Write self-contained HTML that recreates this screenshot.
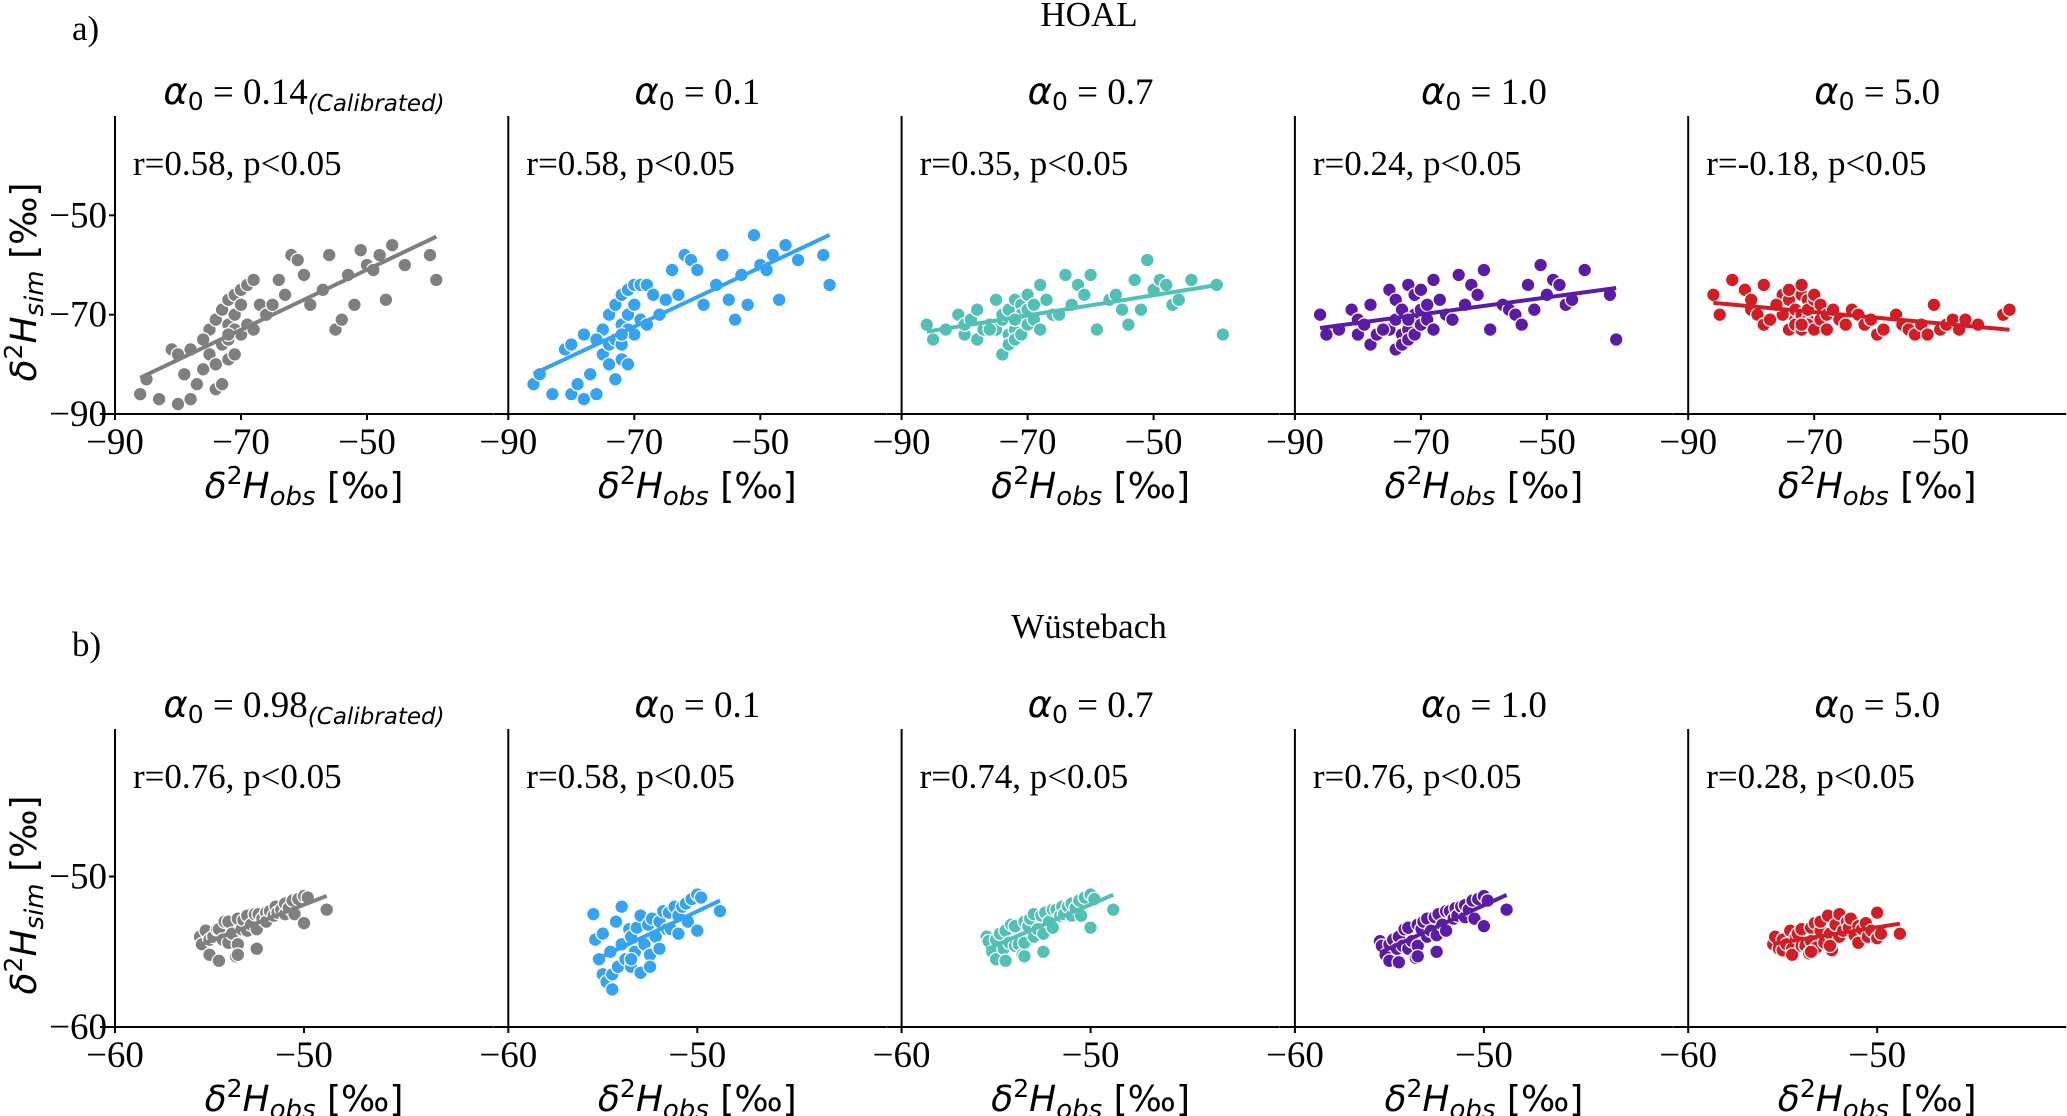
<!DOCTYPE html>
<html><head><meta charset="utf-8"><style>
html,body{margin:0;padding:0;background:#fff;}
svg{display:block;}
.tick{font-family:"Liberation Serif",serif;font-size:37px;fill:#000;}
.ann{font-family:"Liberation Serif",serif;font-size:35px;fill:#000;}
.ttl{font-family:"Liberation Serif",serif;font-size:37px;fill:#000;}
.sans{font-family:"DejaVu Sans",sans-serif;}
.lab{font-family:"DejaVu Sans",sans-serif;font-size:36px;fill:#000;}
</style></head><body>
<svg id="fig" width="2067" height="1116" viewBox="0 0 2067 1116" xmlns="http://www.w3.org/2000/svg">
<text x="72" y="40" class="ann">a)</text>
<text x="1089" y="26" class="ann" text-anchor="middle">HOAL</text>
<text x="72" y="656" class="ann">b)</text>
<text x="1089" y="638" class="ann" text-anchor="middle">Wüstebach</text>
</svg>
<script>
// ---- data ----
const alphaLabels = ["0.14","0.1","0.7","1.0","5.0"];
const alphaLabelsB = ["0.98","0.1","0.7","1.0","5.0"];
const colors = ["#7f7f7f","#35a2f4","#52c0b4","#5a1ba6","#d41c24"];
const rTextA = ["r=0.58, p<0.05","r=0.58, p<0.05","r=0.35, p<0.05","r=0.24, p<0.05","r=-0.18, p<0.05"];
const rTextB = ["r=0.76, p<0.05","r=0.58, p<0.05","r=0.74, p<0.05","r=0.76, p<0.05","r=0.28, p<0.05"];
const ticksA = [-90,-70,-50];
const ticksBx = [-60,-50];
const ticksBy = [-60,-50];
const obsA = [-86,-85,-83,-81,-80,-80,-79,-78,-78,-77,-76,-75,-75,-74,-74,-74,-73,-73,-73,-72,-72,-72,-72,-71,-71,-71,-71,-70,-70,-70,-69,-69,-68,-68,-67,-66,-65,-64,-63,-62,-61,-60,-59,-57,-56,-55,-54,-53,-52,-51,-50,-49,-48,-47,-46,-44,-40,-39,-76,-72];
const simA1 = [-86,-83,-87,-77,-78,-88,-82,-87,-77,-84,-81,-73,-78,-85,-80,-71,-76,-69,-84,-72,-67,-75,-79,-66,-73,-78,-70,-68,-74,-65,-72,-64,-63,-73,-68,-70,-68,-63,-66,-58,-59,-62,-68,-65,-58,-73,-71,-62,-68,-57,-60,-61,-58,-67,-56,-60,-58,-63,-75,-74];
const simA2 = [-84,-82,-86,-77,-76,-86,-84,-87,-74,-82,-86,-73,-78,-80,-76,-70,-75,-68,-83,-72,-66,-76,-79,-65,-73,-80,-70,-68,-74,-64,-71,-64,-64,-72,-66,-70,-67,-61,-66,-58,-59,-61,-68,-64,-58,-67,-71,-62,-68,-54,-60,-61,-58,-67,-56,-59,-58,-64,-75,-74];
const simA3 = [-72,-75,-73,-70,-74,-72,-71,-75,-69,-73,-72,-67,-73,-78,-71,-70,-74,-69,-76,-72,-67,-73,-75,-68,-71,-74,-70,-69,-72,-66,-71,-68,-64,-73,-67,-70,-70,-62,-68,-64,-66,-62,-73,-67,-66,-69,-72,-63,-69,-59,-65,-63,-64,-68,-67,-63,-64,-74,-73,-71];
const simA4 = [-70,-74,-73,-69,-74,-71,-72,-76,-68,-74,-73,-65,-73,-77,-71,-67,-74,-69,-76,-72,-64,-73,-75,-66,-71,-74,-70,-69,-72,-65,-71,-68,-63,-73,-67,-70,-71,-62,-68,-64,-66,-61,-73,-68,-69,-70,-72,-64,-69,-60,-66,-63,-64,-68,-67,-61,-66,-75,-73,-71];
const simA5 = [-66,-70,-63,-65,-69,-67,-70,-72,-64,-71,-68,-66,-70,-73,-67,-65,-71,-69,-72,-66,-64,-70,-73,-67,-71,-72,-69,-67,-73,-66,-71,-68,-70,-73,-69,-71,-72,-69,-70,-72,-71,-74,-73,-70,-72,-73,-74,-72,-74,-68,-73,-72,-71,-73,-71,-72,-70,-69,-68,-72];
const obsB = [-55.5,-55.4,-55.2,-55,-55,-54.8,-54.6,-54.5,-54.5,-54.3,-54.2,-54,-54,-53.8,-53.6,-53.5,-53.5,-53.3,-53.2,-53,-53,-52.8,-52.6,-52.5,-52.4,-52.2,-52,-52,-51.8,-51.6,-51.5,-51.4,-51.2,-51,-51,-50.8,-50.6,-50.5,-50.3,-50,-50,-49.8,-52.5,-53.5,-48.8];
const simB1 = [-54,-54.5,-53.6,-54.2,-55.2,-54,-53.5,-53.5,-55.6,-54.2,-53,-54.4,-53,-53.8,-55.3,-52.8,-54.5,-53.5,-52.9,-53.6,-52.6,-53.2,-52.5,-53.5,-52.5,-52.8,-52.4,-53,-52.3,-52.6,-52,-52.4,-52.2,-51.8,-52.5,-52.1,-51.6,-52.5,-51.5,-51.3,-53.1,-51.4,-54.8,-55.2,-52.2];
const simB2 = [-52.5,-54.2,-55.5,-56.5,-53.8,-57,-55,-56.5,-57.5,-53,-56,-54.5,-52,-55.5,-53.5,-56,-54,-55,-53.4,-56.4,-52.6,-54.5,-53.2,-55.2,-52.8,-54,-53,-54.8,-52.3,-53.5,-52.4,-53.5,-52,-52.6,-53.8,-52,-51.8,-53,-51.5,-51.2,-53.6,-51.4,-56,-55.5,-52.3];
const simB3 = [-54,-54.3,-55,-54.2,-55.5,-53.8,-54.8,-53.6,-55.6,-54.4,-53.2,-54.6,-53.3,-54.5,-55.2,-53,-54.4,-53.3,-52.8,-54,-52.5,-53.5,-52.6,-53.8,-52.4,-53,-52.2,-53.4,-52.2,-52.6,-52,-52.5,-52,-51.8,-52.6,-52.1,-51.6,-52.6,-51.4,-51.2,-53.4,-51.5,-55,-55.3,-52.2];
const simB4 = [-54.3,-54.6,-55.2,-54.5,-55.6,-54.2,-54.8,-54,-55.7,-54.6,-53.5,-54.8,-53.4,-54.3,-55.4,-53.2,-54.6,-53.5,-53,-54,-52.8,-53.6,-52.7,-53.9,-52.5,-53.2,-52.3,-53.6,-52.3,-52.8,-52.1,-52.6,-52,-51.9,-52.7,-52.2,-51.6,-52.8,-51.5,-51.3,-53.3,-51.6,-55,-55.3,-52.2];
const simB5 = [-54.5,-54,-54.8,-54.2,-54.9,-54.5,-53.6,-54.8,-55.2,-54,-53.8,-54.6,-53.5,-54.6,-55.1,-53.4,-54.3,-53.1,-54.7,-53.6,-53,-54.4,-52.6,-53.8,-54.9,-53.2,-52.5,-54,-53.6,-53,-53.4,-52.8,-53.9,-53.3,-54.4,-53.5,-53.1,-54,-53.6,-54.1,-52.4,-53.8,-54.6,-55,-53.8];

const NS = "http://www.w3.org/2000/svg";
const svg = document.getElementById("fig");
function mk(tag, attrs, parent){ const e=document.createElementNS(NS,tag); for(const k in attrs) e.setAttribute(k,attrs[k]); (parent||svg).appendChild(e); return e; }

function panel(opts){
  const {left, top, w, h, xmin, xmax, ymin, ymax, xt, yt, obs, sim, color, title, rtext, calib, showY, idx, row} = opts;
  const sx = v => left + (v - xmin) / (xmax - xmin) * w;
  const sy = v => top + h - (v - ymin) / (ymax - ymin) * h;
  const g = mk("g", {});
  
  
  const ya = mk("line",{x1:left,y1:top,x2:left,y2:top+h,stroke:"#000","stroke-width":2},g);
  
  
  const xa = mk("line",{x1:left-15,y1:top+h,x2:left+w,y2:top+h,stroke:"#000","stroke-width":2},g);
  
  
  xt.forEach(v=>{
    const x=sx(v);
    mk("line",{x1:x,y1:top+h,x2:x,y2:top+h+6,stroke:"#000","stroke-width":2},g);
    const t=mk("text",{x:x,y:top+h+40,"text-anchor":"middle",class:"tick"},g);
    t.textContent="\u2212"+Math.abs(v);
    
    
  });
  yt.forEach(v=>{
    const y=sy(v);
    mk("line",{x1:left-6,y1:y,x2:left,y2:y,stroke:"#000","stroke-width":2},g);
    const t=mk("text",{x:left-8,y:y+12,"text-anchor":"end",class:"tick"},g);
    t.textContent="\u2212"+Math.abs(v);
    
    
  });
  obs.forEach((v,i)=>{
    const c=mk("circle",{cx:sx(v),cy:sy(sim[i]),r:6.8,fill:color,stroke:"#fff","stroke-width":1.3},g);
    
    
  });
  const n=obs.length; let mx=0,my=0; obs.forEach((v,i)=>{mx+=v;my+=sim[i];}); mx/=n; my/=n;
  let sxy=0,sxx=0; obs.forEach((v,i)=>{sxy+=(v-mx)*(sim[i]-my); sxx+=(v-mx)*(v-mx);});
  const b=sxy/sxx, a=my-b*mx;
  const x0=Math.min(...obs), x1=Math.max(...obs);
  const rl=mk("line",{x1:sx(x0),y1:sy(a+b*x0),x2:sx(x1),y2:sy(a+b*x1),stroke:color,"stroke-width":4},g);
  
  
  const t=mk("text",{x:left+w/2,y:top-12,"text-anchor":"middle",class:"ttl"},g);
  
  
  t.innerHTML = '<tspan class="sans" font-style="italic">α</tspan><tspan class="sans" font-size="25" dy="6">0</tspan><tspan dy="-6"> = '+title+'</tspan>' + (calib ? '<tspan class="sans" font-style="italic" font-size="23" dy="7">(Calibrated)</tspan>' : '');
  const r=mk("text",{x:left+18,y:top+59,class:"ann"},g);
  r.textContent=rtext;
  
  
  const xl=mk("text",{x:left+w/2,y:top+h+84,"text-anchor":"middle",class:"lab"},g);
  
  
  xl.innerHTML='<tspan font-style="italic">δ</tspan><tspan font-size="25" dy="-14">2</tspan><tspan font-style="italic" dy="14">H</tspan><tspan font-style="italic" font-size="26" dy="7">obs</tspan><tspan dy="-7"> [‰]</tspan>';
  if(showY){
    const cy=top+h/2+17;
    const yl=mk("text",{x:0,y:0,"text-anchor":"middle",class:"lab",transform:"translate(36,"+cy+") rotate(-90)"},g);
    
    
    yl.innerHTML='<tspan font-style="italic">δ</tspan><tspan font-size="25" dy="-14">2</tspan><tspan font-style="italic" dy="14">H</tspan><tspan font-style="italic" font-size="26" dy="7">sim</tspan><tspan dy="-7">  [‰]</tspan>';
  }
}
const simsA=[simA1,simA2,simA3,simA4,simA5];
const simsB=[simB1,simB2,simB3,simB4,simB5];
for(let i=0;i<5;i++){
  const left=115+i*393.3;
  panel({left,top:116,w:378,h:298,xmin:-90,xmax:-30,ymin:-90,ymax:-30,xt:ticksA,yt:i===0?ticksA:[],obs:obsA,sim:simsA[i],color:colors[i],title:alphaLabels[i],rtext:rTextA[i],calib:i===0,showY:i===0,idx:i,row:"a"});
  panel({left,top:729,w:378,h:298,xmin:-60,xmax:-40,ymin:-60,ymax:-40.2,xt:ticksBx,yt:i===0?ticksBy:[],obs:obsB,sim:simsB[i],color:colors[i],title:alphaLabelsB[i],rtext:rTextB[i],calib:i===0,showY:i===0,idx:i,row:"b"});
}
</script>
</body></html>
